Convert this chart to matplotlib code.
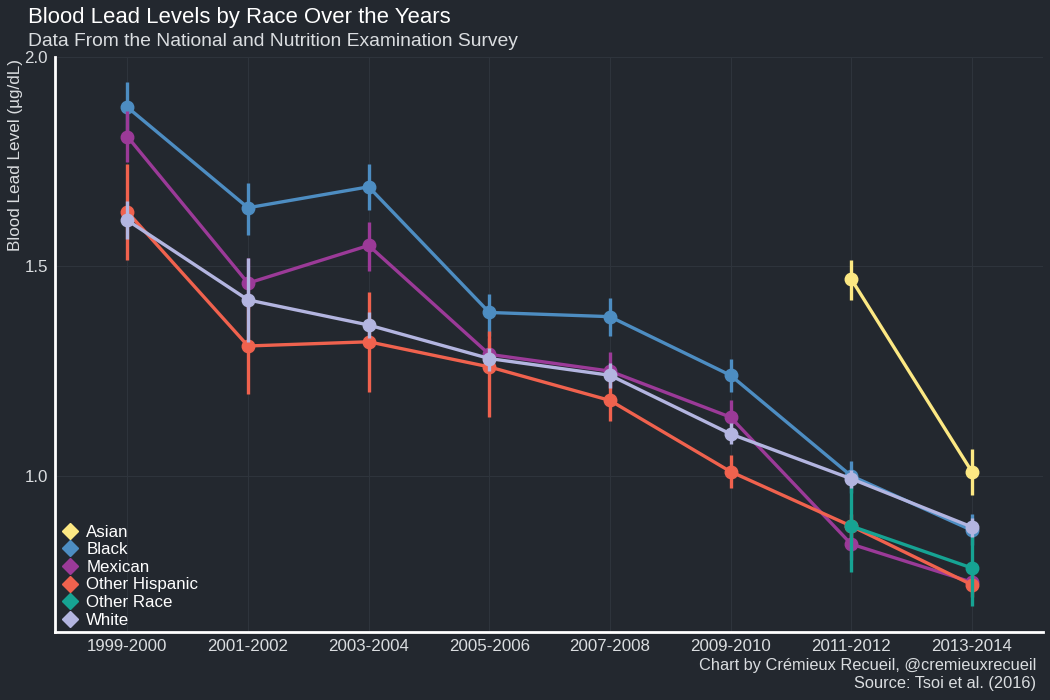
import matplotlib
matplotlib.use("Agg")
import matplotlib.pyplot as plt
import numpy as np

nan = np.nan

periods = ["1999-2000", "2001-2002", "2003-2004", "2005-2006",
           "2007-2008", "2009-2010", "2011-2012", "2013-2014"]

asian = [nan, nan, nan, nan, nan, nan, 1.47, 1.01]
asian_lo = [nan, nan, nan, nan, nan, nan, 1.42, 0.955]
asian_hi = [nan, nan, nan, nan, nan, nan, 1.515, 1.065]

black = [1.88, 1.64, 1.69, 1.39, 1.38, 1.24, 1.00, 0.87]
black_lo = [1.82, 1.575, 1.635, 1.335, 1.335, 1.20, 0.96, 0.835]
black_hi = [1.94, 1.70, 1.745, 1.435, 1.425, 1.28, 1.035, 0.91]

mexican = [1.81, 1.46, 1.55, 1.29, 1.25, 1.14, 0.837, 0.746]
mexican_lo = [1.75, 1.40, 1.49, 1.25, 1.21, 1.10, 0.80, 0.72]
mexican_hi = [1.87, 1.52, 1.605, 1.33, 1.295, 1.18, 0.875, 0.775]

other_hisp = [1.63, 1.31, 1.32, 1.26, 1.18, 1.01, 0.88, 0.74]
other_hisp_lo = [1.515, 1.195, 1.20, 1.14, 1.13, 0.97, 0.85, 0.71]
other_hisp_hi = [1.745, 1.43, 1.44, 1.345, 1.23, 1.05, 0.91, 0.77]

other_race = [nan, nan, nan, nan, nan, nan, 0.88, 0.78]
other_race_lo = [nan, nan, nan, nan, nan, nan, 0.77, 0.69]
other_race_hi = [nan, nan, nan, nan, nan, nan, 0.99, 0.89]

white = [1.61, 1.42, 1.36, 1.28, 1.24, 1.10, 0.993, 0.878]
white_lo = [1.565, 1.32, 1.33, 1.25, 1.21, 1.075, 0.97, 0.855]
white_hi = [1.655, 1.52, 1.39, 1.305, 1.27, 1.125, 1.015, 0.90]

series = [
    ("Asian", asian, asian_lo, asian_hi, "#FCE883"),
    ("Black", black, black_lo, black_hi, "#4D8DC2"),
    ("Mexican", mexican, mexican_lo, mexican_hi, "#9B3A98"),
    ("Other Hispanic", other_hisp, other_hisp_lo, other_hisp_hi, "#F0624E"),
    ("Other Race", other_race, other_race_lo, other_race_hi, "#16A393"),
    ("White", white, white_lo, white_hi, "#B3B5E0"),
]

BG = "#23282F"
GRID = "#2E343C"
TXT = "#DADDE0"

plt.rcParams['font.family'] = ['Liberation Sans', 'DejaVu Sans']

fig = plt.figure(figsize=(10.5, 7), dpi=100, facecolor=BG)
ax = fig.add_axes([0.0524, 0.0971, 0.9409, 0.8215])
ax.set_facecolor(BG)

x = np.arange(len(periods))
handles = []
for name, vals, lo, hi, col in series:
    vals = np.array(vals, dtype=float)
    lo = np.array(lo, dtype=float)
    hi = np.array(hi, dtype=float)
    ok = ~np.isnan(vals)
    ax.vlines(x[ok], lo[ok], hi[ok], color=col, lw=2.4, zorder=3)
    ax.plot(x[ok], vals[ok], color=col, lw=2.4, marker='o', ms=9,
            zorder=3)
    h, = ax.plot([], [], ls='none', marker='D', ms=8, color=col, label=name)
    handles.append(h)

ax.set_xlim(-0.6, 7.59)
ax.set_ylim(0.627, 2.0)
ax.set_xticks(x)
ax.set_xticklabels(periods)
ax.set_yticks([1.0, 1.5, 2.0])
ax.set_yticklabels(["1.0", "1.5", "2.0"])
ax.grid(True, color=GRID, lw=0.8)
ax.set_axisbelow(True)
ax.tick_params(colors=TXT, labelsize=12.2, length=0, pad=5)
for side in ["top", "right"]:
    ax.spines[side].set_visible(False)
for side in ["left", "bottom"]:
    ax.spines[side].set_color("white")
    ax.spines[side].set_linewidth(2)

leg = ax.legend(handles=handles, loc='lower left', frameon=False,
                fontsize=12.2, labelcolor="white", handletextpad=0.45,
                labelspacing=0.15, borderaxespad=0.2, handlelength=1.0,
                borderpad=0.2, bbox_to_anchor=(0.0, -0.004))

fig.text(0.027, 0.975, "Blood Lead Levels by Race Over the Years",
         color="white", fontsize=15.9, va='center', ha='left')
fig.text(0.027, 0.941, "Data From the National and Nutrition Examination Survey",
         color=TXT, fontsize=13.9, va='center', ha='left')
fig.text(0.015, 0.916, "Blood Lead Level (\u00b5g/dL)", color=TXT,
         fontsize=12.3, rotation=90, va='top', ha='center')
fig.text(0.987, 0.049, "Chart by Cr\u00e9mieux Recueil, @cremieuxrecueil",
         color=TXT, fontsize=11.8, ha='right', va='center')
fig.text(0.987, 0.023, "Source: Tsoi et al. (2016)",
         color=TXT, fontsize=11.8, ha='right', va='center')

fig.savefig("out.png", dpi=100, facecolor=BG)
